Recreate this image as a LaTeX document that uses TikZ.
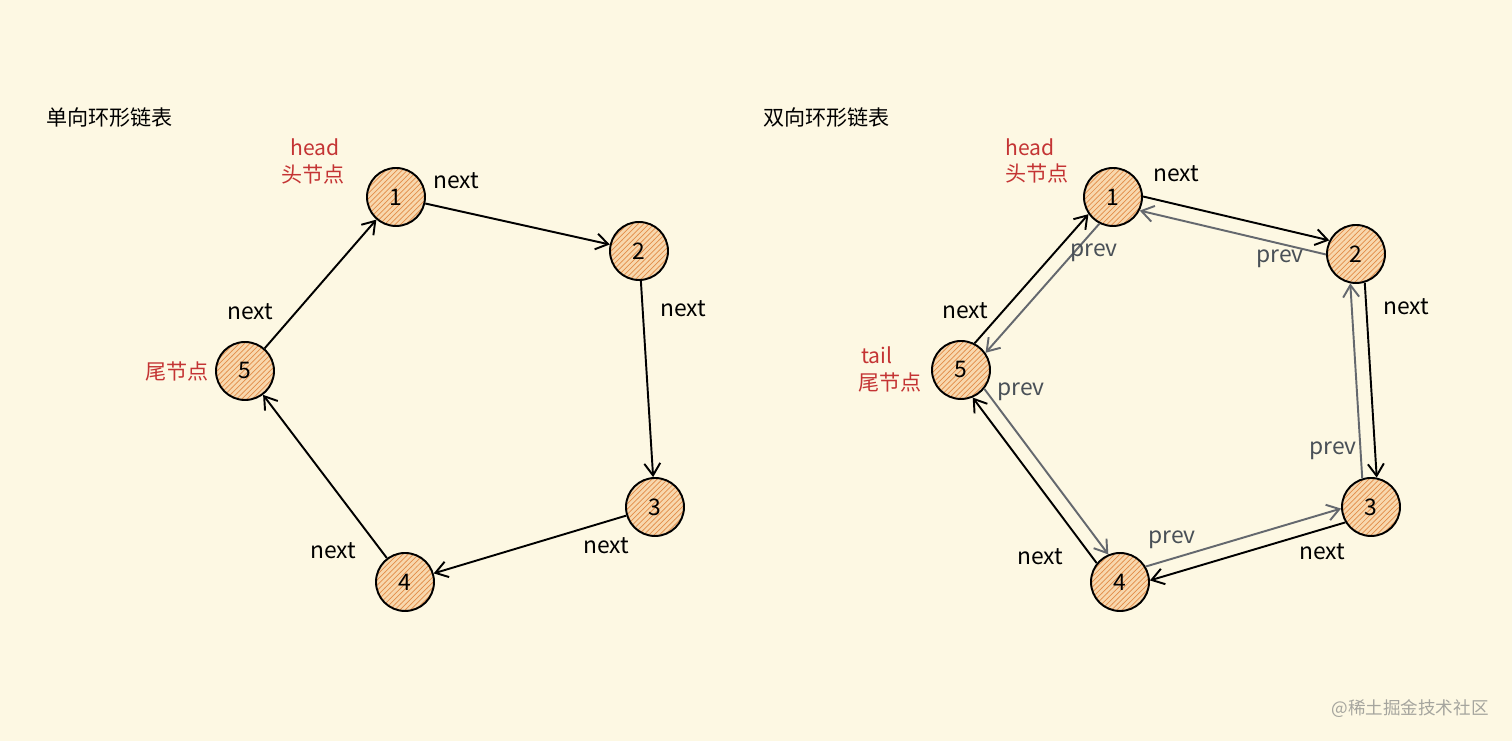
\documentclass[tikz,border=0pt]{standalone}
\usepackage{fontspec}
\setmainfont{Noto Sans CJK SC}
\usetikzlibrary{arrows.meta,patterns}
\definecolor{paper}{RGB}{253,248,227}
\definecolor{peach}{RGB}{248,216,174}
\definecolor{stripe}{RGB}{226,140,72}
\definecolor{marker}{RGB}{196,52,52}
\definecolor{backlink}{RGB}{100,104,110}
\definecolor{backtext}{RGB}{73,80,87}
\definecolor{wmgrey}{RGB}{165,165,158}
\tikzset{
  listnode/.style={circle, draw=black, line width=1.1pt, minimum size=1.16cm, inner sep=0pt,
    preaction={fill=peach}, pattern=north east lines, pattern color=stripe, font=\fontsize{13}{13}\selectfont},
  nextlink/.style={draw=black, line width=1.1pt, -{Straight Barb[length=2.4mm,width=3.2mm]}},
  prevlink/.style={draw=backlink, line width=1.1pt, -{Straight Barb[length=2.4mm,width=3.2mm]}},
  listtitle/.style={font=\fontsize{12}{12}\selectfont, anchor=west},
  nextlabel/.style={font=\fontsize{13}{13}\selectfont},
  prevlabel/.style={font=\fontsize{13}{13}\selectfont, text=backtext},
  marklabel/.style={font=\fontsize{12}{12}\selectfont, text=marker},
  watermark/.style={font=\fontsize{10}{10}\selectfont, text=wmgrey},
}

\begin{document}
\begin{tikzpicture}[x=2cm, y=2cm]
\fill[paper] (0,0) rectangle (15.12,7.41);
\useasboundingbox (0,0) rectangle (15.12,7.41);
\node[listtitle] (ltitle) at (0.40,6.23) {单向环形链表};
\node[listnode] (l1) at (3.96,5.44) {1};
\node[listnode] (l2) at (6.39,4.90) {2};
\node[listnode] (l3) at (6.55,2.34) {3};
\node[listnode] (l4) at (4.05,1.59) {4};
\node[listnode] (l5) at (2.45,3.70) {5};
\draw[nextlink] (l1) -- (l2);
\draw[nextlink] (l2) -- (l3);
\draw[nextlink] (l3) -- (l4);
\draw[nextlink] (l4) -- (l5);
\draw[nextlink] (l5) -- (l1);
\node[marklabel] (lhead) at (3.15,5.94) {head};
\node[marklabel] (lheadcn) at (3.13,5.67) {头节点};
\node[marklabel] (ltailcn) at (1.77,3.70) {尾节点};
\node[nextlabel] (ln12) at (4.56,5.60) {next};
\node[nextlabel] (ln23) at (6.83,4.32) {next};
\node[nextlabel] (ln34) at (6.06,1.95) {next};
\node[nextlabel] (ln45) at (3.33,1.90) {next};
\node[nextlabel] (ln51) at (2.50,4.29) {next};
\node[listtitle] (rtitle) at (7.57,6.23) {双向环形链表};
\node[listnode] (r1) at (11.13,5.44) {1};
\node[listnode] (r2) at (13.56,4.87) {2};
\node[listnode] (r3) at (13.71,2.34) {3};
\node[listnode] (r4) at (11.20,1.59) {4};
\node[listnode] (r5) at (9.61,3.71) {5};
\draw[nextlink] (r1.1) -- (r2.153);
\draw[prevlink] (r2.181) -- (r1.-27);
\draw[nextlink] (r2.-73) -- (r3.79);
\draw[prevlink] (r3.107) -- (r2.-101);
\draw[nextlink] (r3.-149) -- (r4.3);
\draw[prevlink] (r4.31) -- (r3.183);
\draw[nextlink] (r4.141) -- (r5.-67);
\draw[prevlink] (r5.-39) -- (r4.113);
\draw[nextlink] (r5.63) -- (r1.215);
\draw[prevlink] (r1.243) -- (r5.35);
\node[marklabel] (rhead) at (10.30,5.94) {head};
\node[marklabel] (rheadcn) at (10.37,5.68) {头节点};
\node[marklabel] (rtail) at (8.77,3.86) {tail};
\node[marklabel] (rtailcn) at (8.90,3.59) {尾节点};
\node[nextlabel] (rn12) at (11.76,5.67) {next};
\node[nextlabel] (rn23) at (14.06,4.34) {next};
\node[nextlabel] (rn34) at (13.22,1.89) {next};
\node[nextlabel] (rn45) at (10.40,1.84) {next};
\node[nextlabel] (rn51) at (9.65,4.30) {next};
\node[prevlabel] (rp15) at (10.94,4.88) {prev};
\node[prevlabel] (rp21) at (12.80,4.82) {prev};
\node[prevlabel] (rp32) at (13.33,2.90) {prev};
\node[prevlabel] (rp43) at (11.72,2.01) {prev};
\node[prevlabel] (rp54) at (10.21,3.49) {prev};
\node[watermark] (wm) at (14.10,0.32) {@稀土掘金技术社区};
\end{tikzpicture}
\end{document}
